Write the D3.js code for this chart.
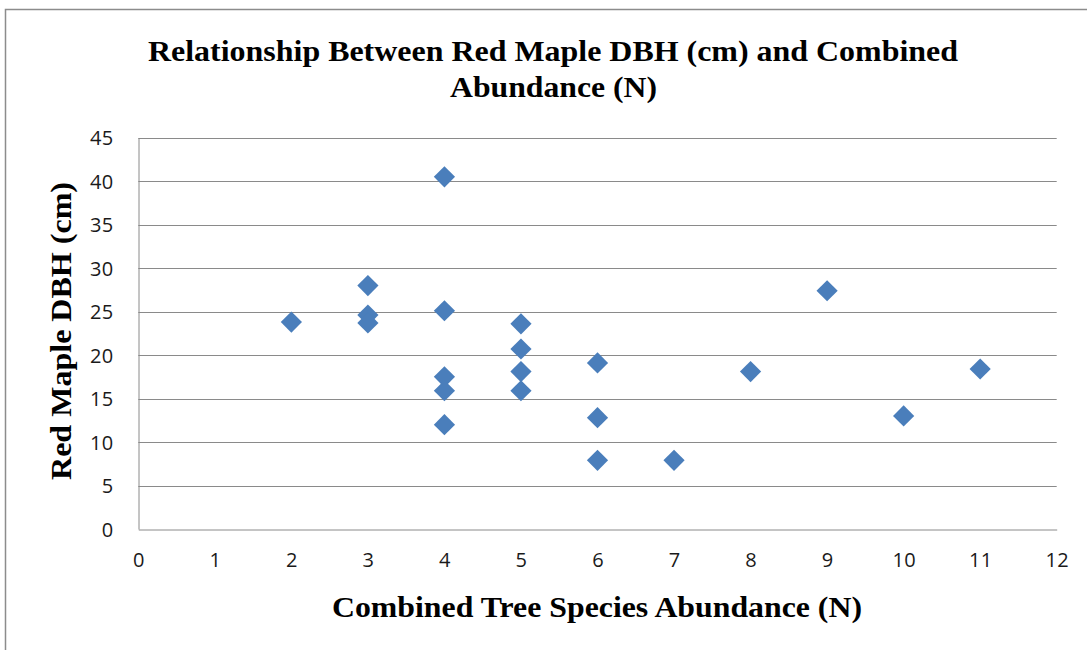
<!DOCTYPE html>
<html>
<head>
<meta charset="utf-8">
<script src="https://cdn.jsdelivr.net/npm/d3@7"></script>
<style>
  html, body { margin: 0; padding: 0; background: #fff; }
  svg { display: block; }
</style>
</head>
<body>
<svg id="chart" width="1087" height="650"></svg>
<script>
// ---- Data ----
const abundance = [2, 3, 3, 3, 4, 4, 4, 4, 4, 5, 5, 5, 5, 6, 6, 6, 7, 8, 9, 10, 11];
const dbh       = [23.8, 28.0, 24.6, 23.7, 40.5, 25.1, 17.5, 15.9, 12.0, 23.6, 20.7, 18.1, 15.9, 19.1, 12.8, 7.9, 7.9, 18.1, 27.4, 13.0, 18.4];
const xTicks = [0, 1, 2, 3, 4, 5, 6, 7, 8, 9, 10, 11, 12];
const yTicks = [0, 5, 10, 15, 20, 25, 30, 35, 40, 45];
const titleLines = ["Relationship Between Red Maple DBH (cm) and Combined", "Abundance (N)"];
const xTitle = "Combined Tree Species Abundance (N)";
const yTitle = "Red Maple DBH (cm)";

const svg = d3.select("#chart");
const plot = { left: 138.3, right: 1056.7, top: 137.7, bottom: 529 };

// outer chart border
svg.append("rect").attr("x", 5.5).attr("y", 9.5).attr("width", 1200).attr("height", 800)
  .attr("fill", "#fff").attr("stroke", "#8c8c8c").attr("stroke-width", 1.5);

const x = d3.scaleLinear().domain([0, 12]).range([plot.left, plot.right]);
const y = d3.scaleLinear().domain([0, 45]).range([plot.bottom, plot.top]);

// gridlines
svg.append("g").selectAll("line").data(yTicks.filter(d => d > 0)).join("line")
  .attr("x1", plot.left).attr("x2", plot.right)
  .attr("y1", d => Math.round(y(d)) + 0.5).attr("y2", d => Math.round(y(d)) + 0.5)
  .attr("stroke", "#8a8a8a").attr("stroke-width", 1);

// axes
const yAxis = d3.axisLeft(y).tickValues(yTicks).tickSize(0).tickPadding(25);
const xAxis = d3.axisBottom(x).tickValues(xTicks).tickSize(0).tickPadding(23);

const gy = svg.append("g").attr("transform", `translate(${Math.round(plot.left) + 0.5},0)`).call(yAxis);
const gx = svg.append("g").attr("transform", `translate(0,${Math.round(plot.bottom) + 0.5})`).call(xAxis);
[gx, gy].forEach(g => {
  g.attr("font-size", null).attr("font-family", null);
  g.select(".domain").attr("stroke", "#8a8a8a").attr("stroke-width", 1);
  g.selectAll("text")
    .style("font-family", "'Open Sans', sans-serif").style("font-size", "20px")
    .style("letter-spacing", "0.3px").attr("fill", "#1a1a1a");
});
gy.selectAll("text").attr("dy", "0.36em");
gx.selectAll("text").attr("dy", "0.71em");

// points (diamonds)
svg.append("g").selectAll("path").data(abundance.map((a, i) => [a, dbh[i]])).join("path")
  .attr("d", d3.symbol().type(d3.symbolSquare).size(225))
  .attr("transform", d => `translate(${x(d[0])},${y(d[1])}) rotate(45)`)
  .attr("fill", "#4a7ebb");

// titles
function fitText(sel, width) {
  sel.attr("textLength", width).attr("lengthAdjust", "spacingAndGlyphs");
}
const tfont = "'Liberation Serif', 'Times New Roman', serif";
const t1 = svg.append("text").attr("x", 553).attr("y", 61).attr("text-anchor", "middle")
  .attr("font-family", tfont).attr("font-weight", "bold").attr("font-size", 30).text(titleLines[0]);
fitText(t1, 810);
const t2 = svg.append("text").attr("x", 553.5).attr("y", 97).attr("text-anchor", "middle")
  .attr("font-family", tfont).attr("font-weight", "bold").attr("font-size", 30).text(titleLines[1]);
fitText(t2, 207);

const xt = svg.append("text").attr("x", 597).attr("y", 617).attr("text-anchor", "middle")
  .attr("font-family", tfont).attr("font-weight", "bold").attr("font-size", 29).text(xTitle);
fitText(xt, 530);

const yt = svg.append("text").attr("transform", `translate(71,331) rotate(-90)`).attr("text-anchor", "middle")
  .attr("font-family", tfont).attr("font-weight", "bold").attr("font-size", 29).text(yTitle);
fitText(yt, 298);
</script>
</body>
</html>
